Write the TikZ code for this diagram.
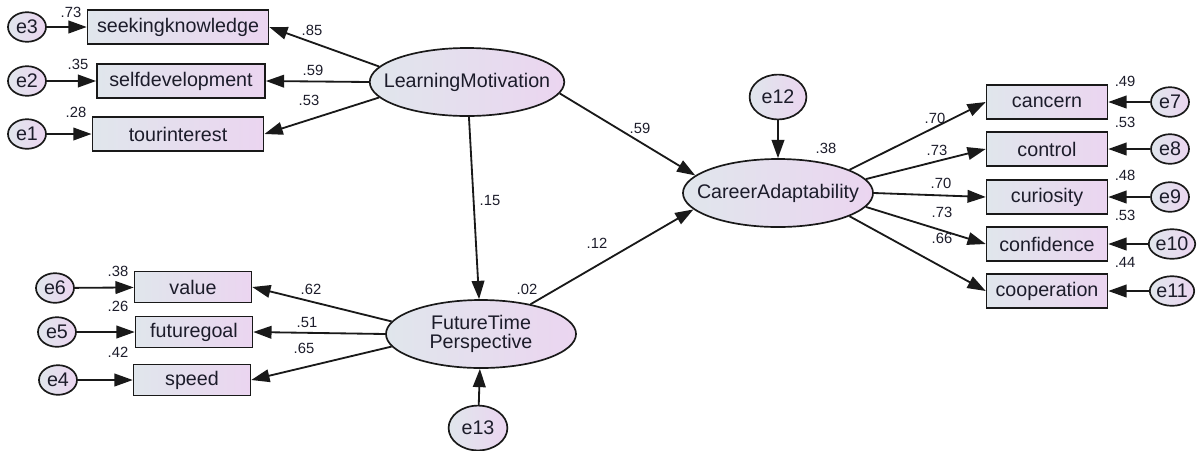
\documentclass[tikz,border=0pt]{standalone}
\usepackage{fontspec}
\setmainfont{Liberation Sans}
\usetikzlibrary{arrows.meta,shapes.geometric}
\definecolor{shadeL}{RGB}{224,230,236}
\definecolor{shadeR}{RGB}{235,213,240}
\definecolor{ink}{RGB}{28,28,42}

\begin{document}
\begin{tikzpicture}[x=0.025cm,y=-0.025cm,
  obs/.style={draw=black!90,line width=1.2pt,left color=shadeL,right color=shadeR,
    inner sep=0pt,minimum height=0.86cm,text=ink,font=\fontsize{14}{14}\selectfont},
  lat/.style={ellipse,draw=black!90,line width=1.2pt,left color=shadeL,right color=shadeR,
    inner sep=0pt,minimum width=4.75cm,minimum height=1.7cm,text=ink,align=center,
    font=\fontsize{14}{14}\selectfont},
  err/.style={ellipse,draw=black!90,line width=1.2pt,left color=shadeL,right color=shadeR,
    inner sep=0pt,minimum width=0.95cm,minimum height=0.74cm,text=ink,
    font=\fontsize{14}{14}\selectfont},
  num/.style={inner sep=0pt,text=ink,font=\fontsize{10.5}{10.5}\selectfont},
  link/.style={line width=1.3pt,draw=black!90,-{Triangle[length=13pt,width=9pt]}}]
\useasboundingbox (0,0) rectangle (1197,450);

% latent variables
\node[lat,inner xsep=-0.36cm] (LM) at (467,82) {LearningMotivation};
\node[lat,inner xsep=-0.36cm] (CA) at (778,193) {CareerAdaptability};
\node[lat] (FTP) at (481,334) {FutureTime\\Perspective};

% indicators
\node[obs,minimum width=4.52cm] (sk) at (178,27) {seekingknowledge};
\node[obs,minimum width=4.2cm] (sd) at (181,81) {selfdevelopment};
\node[obs,minimum width=4.28cm] (ti) at (178,134) {tourinterest};
\node[obs,minimum width=2.92cm,minimum height=0.78cm] (val) at (193,287) {value};
\node[obs,minimum width=2.92cm,minimum height=0.78cm] (fg) at (194,332) {futuregoal};
\node[obs,minimum width=2.92cm,minimum height=0.78cm] (spd) at (192,380) {speed};
\node[obs,minimum width=3.02cm] (cc) at (1047,102) {cancern};
\node[obs,minimum width=3.02cm] (ctl) at (1047,149) {control};
\node[obs,minimum width=3.02cm] (cur) at (1047,197) {curiosity};
\node[obs,minimum width=3.02cm] (cnf) at (1047,244) {confidence};
\node[obs,minimum width=3.02cm] (coop) at (1047,291) {cooperation};

% errors
\node[err] (e3) at (27,27) {e3};
\node[err] (e2) at (27,81) {e2};
\node[err] (e1) at (27,134) {e1};
\node[err] (e6) at (55,288) {e6};
\node[err] (e5) at (57,332) {e5};
\node[err] (e4) at (58,380) {e4};
\node[err] (e7) at (1170,102) {e7};
\node[err] (e8) at (1170,149) {e8};
\node[err] (e9) at (1170,197) {e9};
\node[err] (e10) at (1172,244) {e10};
\node[err] (e11) at (1172,291) {e11};
\node[err,minimum width=1.42cm,minimum height=1.12cm] (e12) at (778,97) {e12};
\node[err,minimum width=1.47cm,minimum height=1.12cm] (e13) at (478,428) {e13};

% paths
\draw[link] (LM.170) -- (sk.east);
\draw[link] (LM.180) -- (sd.east);
\draw[link] (LM.190) -- (ti.east);
\draw[link] (FTP.172) -- (val.east);
\draw[link] (FTP.180) -- (fg.east);
\draw[link] (FTP.188) -- (spd.east);
\draw[link] (CA.18) -- (cc.west);
\draw[link] (CA.9) -- (ctl.west);
\draw[link] (CA.0) -- (cur.west);
\draw[link] (CA.-9) -- (cnf.west);
\draw[link] (CA.-18) -- (coop.west);
\draw[link] (LM.-7) -- (CA.168);
\draw[link] (LM) -- (FTP);
\draw[link] (FTP.31) -- (CA.191);
\draw[link] (e12) -- (CA);
\draw[link] (e13) -- (FTP);
\draw[link] (e3) -- (sk);
\draw[link] (e2) -- (sd);
\draw[link] (e1) -- (ti);
\draw[link] (e6) -- (val);
\draw[link] (e5) -- (fg);
\draw[link] (e4) -- (spd);
\draw[link] (e7) -- (cc);
\draw[link] (e8) -- (ctl);
\draw[link] (e9) -- (cur);
\draw[link] (e10) -- (cnf);
\draw[link] (e11) -- (coop);

% estimates
\node[num] (r3) at (71,12) {.73};
\node[num] (r2) at (78,64) {.35};
\node[num] (r1) at (76,112) {.28};
\node[num] (w1) at (312,30) {.85};
\node[num] (w2) at (313,70) {.59};
\node[num] (w3) at (309,100) {.53};
\node[num] (r6) at (118,271) {.38};
\node[num] (r5) at (118,306) {.26};
\node[num] (r4) at (118,352) {.42};
\node[num] (w4) at (311,289) {.62};
\node[num] (w5) at (307,322) {.51};
\node[num] (w6) at (304,348) {.65};
\node[num] (b1) at (640,128) {.59};
\node[num] (b2) at (490,200) {.15};
\node[num] (b3) at (597,243) {.12};
\node[num] (rf) at (527,289) {.02};
\node[num] (rc) at (826,148) {.38};
\node[num] (w7) at (935,118) {.70};
\node[num] (w8) at (937,150) {.73};
\node[num] (w9) at (941,183) {.70};
\node[num] (w10) at (942,212) {.73};
\node[num] (w11) at (942,238) {.66};
\node[num] (r7) at (1125,81) {.49};
\node[num] (r8) at (1125,122) {.53};
\node[num] (r9) at (1125,175) {.48};
\node[num] (r10) at (1125,215) {.53};
\node[num] (r11) at (1125,262) {.44};
\end{tikzpicture}
\end{document}
